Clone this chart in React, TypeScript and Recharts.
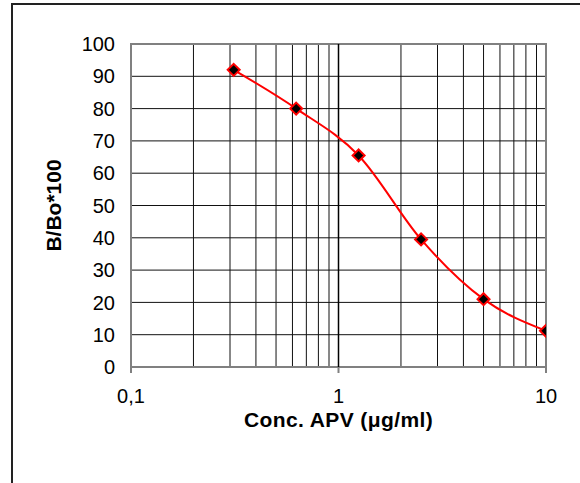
import { CartesianGrid, Line, LineChart, ReferenceArea, ReferenceLine, XAxis, YAxis } from "recharts";

// standard curve values
const concentrations = [0.3125, 0.625, 1.25, 2.5, 5, 10];
const bBoValues = [92, 80, 65.5, 39.5, 21, 11.2];

// log grid: every unit in each decade, labels only on decades
const xTicks = [0.1, 0.2, 0.3, 0.4, 0.5, 0.6, 0.7, 0.8, 0.9, 1, 2, 3, 4, 5, 6, 7, 8, 9, 10];
const xMajorTicks = [0.1, 1, 10];
const yTicks = [0, 10, 20, 30, 40, 50, 60, 70, 80, 90, 100];

const data = concentrations.map((c, i) => ({ conc: c, value: bBoValues[i] }));

const FONT = '"Liberation Sans", Arial, sans-serif';

function XTick(props: any) {
  const { x, y, payload } = props;
  const v = payload.value;
  const major = xMajorTicks.some((m) => Math.abs(m - v) < 1e-9);
  if (!major) return null;
  const label = String(v).replace(".", ",");
  return (
    <g>
      <line x1={x} x2={x} y1={y - 22} y2={y - 16} stroke="#808080" strokeWidth={2} />
      <text x={x} y={y} dy="0.71em" textAnchor="middle" fontSize={20} fontFamily={FONT} fill="#000">
        {label}
      </text>
    </g>
  );
}

function Diamond(props: any) {
  const { cx, cy, index } = props;
  if (cx == null || cy == null) return null;
  const r = 6;
  return (
    <path
      key={index}
      d={`M${cx},${cy - r} L${cx + r},${cy} L${cx},${cy + r} L${cx - r},${cy} Z`}
      fill="#000"
      stroke="#ff0000"
      strokeWidth={2}
    />
  );
}

function YTitle(props: any) {
  const { viewBox } = props;
  const x = viewBox.x + 53;
  const y = viewBox.y + viewBox.height / 2;
  return (
    <text
      x={x}
      y={y}
      transform={`rotate(-90 ${x} ${y})`}
      textAnchor="middle"
      dominantBaseline="central"
      fontSize={21}
      fontWeight="bold"
      fontFamily={FONT}
      fill="#000"
    >
      B/Bo*100
    </text>
  );
}

export default function App() {
  return (
    <div style={{ position: "absolute", left: 0, top: 0, width: 580, height: 483, background: "#fff", overflow: "hidden" }}>
      <div
        style={{
          position: "absolute",
          left: 11,
          top: 3,
          width: 700,
          height: 600,
          borderLeft: "2px solid #222",
          borderTop: "2px solid #222",
        }}
      />
      <LineChart
        width={580}
        height={483}
        data={data}
        margin={{ top: 44, right: 34, left: 0, bottom: 0 }}
        style={{ position: "absolute", left: 0, top: 0 }}
      >
        <CartesianGrid stroke="#111" strokeWidth={1} />
        <XAxis
          dataKey="conc"
          type="number"
          scale="log"
          domain={[0.1, 10]}
          ticks={xTicks}
          interval={0}
          height={116}
          axisLine={false}
          tickLine={false}
          tickSize={0}
          tickMargin={22}
          tick={<XTick />}
          allowDataOverflow
          label={{
            value: "Conc. APV (μg/ml)",
            position: "insideBottom",
            offset: 56,
            fontSize: 21,
            fontWeight: "bold",
            fontFamily: FONT,
            fill: "#000",
            letterSpacing: 0.4,
          }}
        />
        <YAxis
          type="number"
          domain={[0, 100]}
          ticks={yTicks}
          interval={0}
          width={131}
          axisLine={false}
          tickLine={false}
          tickSize={0}
          tickMargin={16}
          tick={{ fontSize: 20, fontFamily: FONT, fill: "#000" }}
          label={<YTitle />}
        />
        <ReferenceLine x={1} stroke="#000" strokeWidth={1.5} />
        <ReferenceArea x1={0.1} x2={10} y1={0} y2={100} fill="none" stroke="#808080" strokeWidth={2} />
        <Line
          type="monotone"
          dataKey="value"
          stroke="#ff0000"
          strokeWidth={2}
          dot={<Diamond />}
          activeDot={false}
          isAnimationActive={false}
        />
      </LineChart>
    </div>
  );
}
